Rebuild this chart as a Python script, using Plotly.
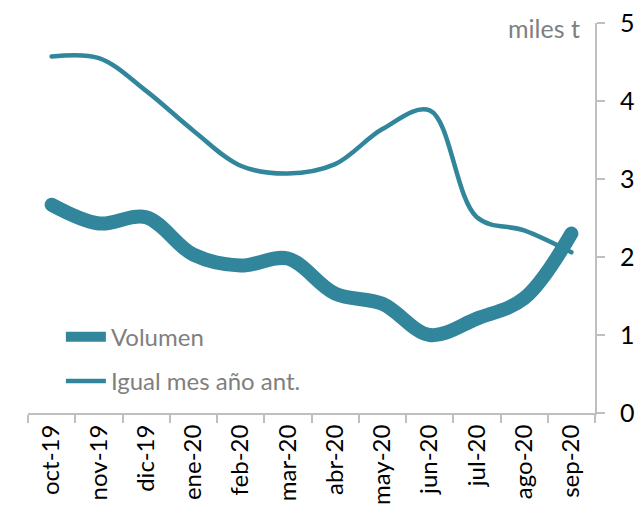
import plotly.graph_objects as go

# Monthly volume vs. same month of the previous year (thousand tonnes)
months = ["oct-19", "nov-19", "dic-19", "ene-20", "feb-20", "mar-20",
          "abr-20", "may-20", "jun-20", "jul-20", "ago-20", "sep-20"]
volumen = [2.67, 2.43, 2.51, 2.03, 1.89, 1.98, 1.53, 1.40, 1.00, 1.21, 1.47, 2.30]
igual_mes_ant = [4.57, 4.55, 4.13, 3.62, 3.17, 3.07, 3.19, 3.64, 3.88, 2.51, 2.34, 2.06]
y_ticks = [0, 1, 2, 3, 4, 5]

teal = "#31869b"
axis_grey = "#bfbfbf"
text_grey = "#7f7f7f"
font_family = "Lato, 'Open Sans', sans-serif"

fig = go.Figure()
fig.add_trace(go.Scatter(
    x=months, y=volumen, name="Volumen", mode="lines", legendgroup="a",
    line=dict(color=teal, width=14, shape="spline", smoothing=1.0),
))
fig.add_trace(go.Scatter(
    x=months, y=igual_mes_ant, name="Igual mes año ant.", mode="lines",
    legendgroup="b",
    line=dict(color=teal, width=4.5, shape="spline", smoothing=1.0),
))

fig.update_layout(
    width=637, height=519,
    margin=dict(l=28, r=42, t=23, b=106),
    plot_bgcolor="white", paper_bgcolor="white",
    font=dict(family=font_family, color="black"),
    showlegend=True,
    legend=dict(
        x=0.058, y=0.252, xanchor="left", yanchor="top",
        bgcolor="rgba(0,0,0,0)",
        font=dict(size=24, color=text_grey, family=font_family),
        itemwidth=40, tracegroupgap=10,
    ),
    xaxis=dict(
        type="category", tickangle=-90, showgrid=False, automargin=False,
        showline=True, linecolor=axis_grey, linewidth=2,
        ticks="outside", tickson="boundaries", ticklen=8, tickwidth=2,
        tickcolor=axis_grey, tickfont=dict(size=24, color="black"),
        range=[-0.5, 11.5],
    ),
    yaxis=dict(
        side="right", range=[0, 5], tickvals=y_ticks, showgrid=False,
        automargin=False,
        showline=True, linecolor=axis_grey, linewidth=2,
        ticks="outside", ticklen=8, tickwidth=2, tickcolor=axis_grey,
        tickfont=dict(size=25, color="black"), zeroline=False,
        ticklabelstandoff=10,
    ),
    annotations=[dict(
        text="miles t", xref="paper", yref="paper", x=0.977, y=1.032,
        xanchor="right", yanchor="top", showarrow=False,
        font=dict(size=25, color=text_grey, family=font_family),
    )],
)

fig.write_html("out.html", post_script=
    "document.querySelectorAll('.scatterlayer path.js-line')"
    ".forEach(function(p){p.style.strokeLinecap='round';p.style.strokeLinejoin='round';});")
